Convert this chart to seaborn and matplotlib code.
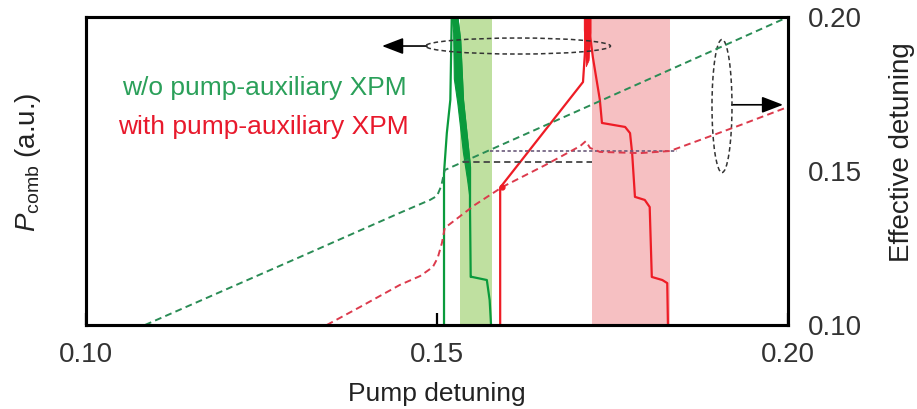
import matplotlib
matplotlib.use("Agg")
import matplotlib.pyplot as plt
from matplotlib.patches import Ellipse
import numpy as np
import pandas as pd
import seaborn as sns

# ---- pump detuning grid values and curves ----
# Effective detuning, without pump-auxiliary XPM (right axis)
eff_wo_x = [0.1084, 0.1305, 0.1447, 0.1490, 0.1500, 0.1506, 0.1511, 0.1732, 0.2000]
eff_wo_y = [0.1000, 0.1221, 0.1364, 0.1406, 0.1419, 0.1451, 0.1503, 0.1727, 0.2000]

# Effective detuning, with pump-auxiliary XPM (right axis)
eff_w_x = [0.1343, 0.1390, 0.1447, 0.1476, 0.1494, 0.1501, 0.1507, 0.1511, 0.1554, 0.1593,
           0.1654, 0.1704, 0.1712, 0.1718, 0.1732, 0.1789, 0.1832, 0.1875, 0.1932, 0.2000]
eff_w_y = [0.1000, 0.1058, 0.1130, 0.1159, 0.1188, 0.1218, 0.1266, 0.1315, 0.1390, 0.1448,
           0.1519, 0.1581, 0.1597, 0.1575, 0.1562, 0.1558, 0.1565, 0.1601, 0.1649, 0.1708]

# Horizontal effective-detuning guides
guide_lo_x = [0.1537, 0.1721]
guide_lo_y = [0.1529, 0.1529]
guide_hi_x = [0.1575, 0.1842]
guide_hi_y = [0.1565, 0.1565]

# Comb power, without XPM (left axis, a.u.)
pc_wo_x = [0.1510, 0.1510, 0.1514, 0.1519, 0.1521, 0.1524, 0.1529, 0.1533, 0.1537, 0.1543,
           0.1547, 0.1547, 0.1548, 0.1550, 0.1571, 0.1575, 0.1577]
pc_wo_y = [0.000, 0.494, 0.623, 0.731, 1.000, 1.060, 1.000, 0.925, 0.731, 0.601,
           0.513, 0.383, 0.156, 0.156, 0.146, 0.081, 0.000]
# chaotic (noisy) band of the comb power without XPM
band_wo_x = [0.1521, 0.1523, 0.1524, 0.1529, 0.1533, 0.1537, 0.1543, 0.1547]
band_wo_hi = [1.000, 1.000, 1.000, 1.000, 0.925, 0.731, 0.601, 0.513]
band_wo_lo = [1.000, 0.950, 0.800, 0.720, 0.640, 0.560, 0.470, 0.400]

# Comb power, with XPM (left axis, a.u.)
pc_w_x = [0.1590, 0.1590, 0.1593, 0.1708, 0.1711, 0.1712, 0.1715, 0.1722, 0.1732, 0.1735,
          0.1768, 0.1775, 0.1778, 0.1782, 0.1796, 0.1803, 0.1806, 0.1821, 0.1828, 0.1829]
pc_w_y = [0.000, 0.445, 0.455, 0.789, 0.893, 1.060, 1.000, 0.870, 0.731, 0.656,
          0.643, 0.623, 0.558, 0.416, 0.406, 0.383, 0.156, 0.146, 0.136, 0.000]
band_w_x = [0.1709, 0.1712, 0.1716, 0.1719]
band_w_hi = [1.00, 1.00, 1.00, 1.00]
band_w_lo = [0.96, 0.84, 0.86, 0.95]

# Soliton existence ranges
span_wo = (0.1533, 0.1579)
span_w = (0.1721, 0.1832)

xticks = [0.10, 0.15, 0.20]
xtick_labels = ["0.10", "0.15", "0.20"]
yticks_right = [0.10, 0.15, 0.20]
ytick_labels_right = ["0.10", "0.15", "0.20"]

# ---- styling ----
GREEN = "#0a9a3c"
GREEN_D = "#2a8c55"
GREEN_T = "#2ba05a"
RED = "#ee1c25"
RED_D = "#dc3a4c"
RED_T = "#e8192c"

sns.set_theme(style="white")
plt.rcParams["font.family"] = ["Liberation Sans", "DejaVu Sans"]
plt.rcParams["mathtext.fontset"] = "custom"
plt.rcParams["mathtext.rm"] = "Liberation Sans"
plt.rcParams["mathtext.it"] = "Liberation Sans:italic"

fig = plt.figure(figsize=(9.17, 4.09), dpi=100)
ax = fig.add_axes([0.0938, 0.2054, 0.7655, 0.7530])
ax2 = ax.twinx()

# shaded soliton ranges
ax.axvspan(*span_wo, color="#bfe0a0", lw=0, zorder=0)
ax.axvspan(*span_w, color="#f6c0c2", lw=0, zorder=0)

# comb power curves
sns.lineplot(x=pc_wo_x, y=pc_wo_y, sort=False, estimator=None, color=GREEN, lw=1.6, ax=ax)
ax.fill_between(band_wo_x, band_wo_lo, band_wo_hi, color=GREEN, lw=0.8)
sns.lineplot(x=pc_w_x, y=pc_w_y, sort=False, estimator=None, color=RED, lw=1.6, ax=ax)
ax.fill_between(band_w_x, band_w_lo, band_w_hi, color=RED, lw=0.5)

# effective detuning curves
dash = (0, (3.5, 2.2))
sns.lineplot(x=eff_wo_x, y=eff_wo_y, sort=False, estimator=None, color=GREEN_D,
             lw=1.4, linestyle=dash, ax=ax2)
sns.lineplot(x=guide_lo_x, y=guide_lo_y, sort=False, estimator=None, color="#444444",
             lw=1.3, linestyle=dash, ax=ax2)
sns.lineplot(x=guide_hi_x, y=guide_hi_y, sort=False, estimator=None, color="#6a5a7a",
             lw=1.2, linestyle=(0, (2, 1.5)), ax=ax2)
sns.lineplot(x=eff_w_x, y=eff_w_y, sort=False, estimator=None, color=RED_D,
             lw=1.4, linestyle=dash, ax=ax2)
ax2.plot([pc_w_x[2]], [eff_w_y[9]], "o", color=RED, ms=3.5)

# axes limits, ticks
ax.set_xlim(0.10, 0.20)
ax.set_ylim(0, 1)
ax.set_xticks(xticks)
ax.set_xticklabels(xtick_labels)
ax.set_yticks([])
ax.tick_params(axis="x", bottom=True, direction="in", length=8.5, width=1.6,
               pad=12, labelsize=20, labelcolor="#333333", color="black")
ax2.set_ylim(0.10, 0.20)
ax2.set_yticks(yticks_right)
ax2.set_yticklabels(ytick_labels_right)
ax2.tick_params(axis="y", right=True, length=0, pad=14, labelsize=20, labelcolor="#333333")

for a in (ax, ax2):
    for s in a.spines.values():
        s.set_linewidth(2.2)
        s.set_color("black")

ax.set_xlabel("Pump detuning", fontsize=19, labelpad=10, color="#222222")
ax.set_ylabel(r"$P_{\mathrm{comb}}$ (a.u.)", fontsize=20, labelpad=31, color="#222222")
ax.yaxis.label.set_y(0.53)
ax2.set_ylabel("Effective detuning", fontsize=20, labelpad=20, color="#222222")
ax2.yaxis.label.set_y(0.56)

# series labels
ax.text(0.051, 0.769, "w/o pump-auxiliary XPM", transform=ax.transAxes,
        color=GREEN_T, fontsize=19, va="center")
ax.text(0.0456, 0.643, "with pump-auxiliary XPM", transform=ax.transAxes,
        color=RED_T, fontsize=19, va="center")

# ellipse markers and arrows pointing to the relevant axis
ax.add_patch(Ellipse((0.6154, 0.9058), 0.2635, 0.052, transform=ax.transAxes,
                     fill=False, ls=(0, (3, 2)), lw=1.1, ec="#333333", zorder=5))
ax.add_patch(Ellipse((0.906, 0.711), 0.0285, 0.432, transform=ax.transAxes,
                     fill=False, ls=(0, (3, 2)), lw=1.1, ec="#333333", zorder=5))
arrow_kw = dict(arrowstyle="-|>,head_length=0.65,head_width=0.25", color="black",
                lw=1.2, mutation_scale=20, shrinkA=0, shrinkB=0)
ax.annotate("", xy=(0.4217, 0.9058), xytext=(0.4858, 0.9058),
            xycoords="axes fraction", arrowprops=arrow_kw)
ax.annotate("", xy=(0.993, 0.715), xytext=(0.920, 0.715),
            xycoords="axes fraction", arrowprops=arrow_kw)

fig.savefig("out.png", dpi=100)
